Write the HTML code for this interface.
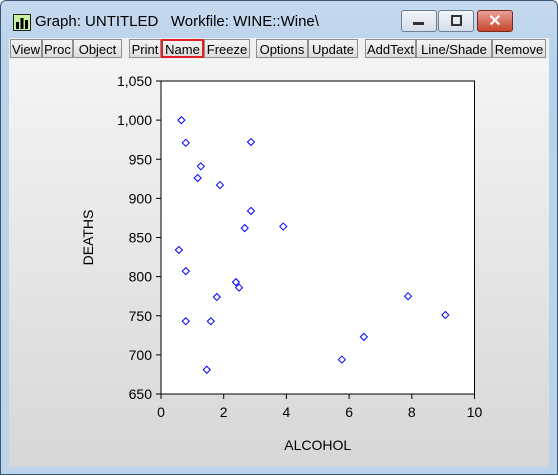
<!DOCTYPE html>
<html><head><meta charset="utf-8"><style>
body{margin:0;width:558px;height:475px;overflow:hidden;font-family:"Liberation Sans",sans-serif;}
#win{position:absolute;left:0;top:0;width:556px;height:473px;border:1px solid #3b5574;border-radius:6px 6px 0 0;background:linear-gradient(#c6d9ee,#b9d1ea 60px,#bcd3eb);}
#title{position:absolute;left:34px;top:12px;font-size:15px;color:#000;}
.tb{position:absolute;top:9px;height:20px;border:1px solid #6f7f93;border-radius:3px;background:linear-gradient(#f2f5f9,#d5dde8);}
#toolbar{position:absolute;left:8px;top:37px;width:540px;height:21px;background:#f0f0f0;}
.btn{position:absolute;top:1px;height:19px;border:1px solid #8e8f8f;background:linear-gradient(#f4f4f4,#dcdcdc);font-size:13px;line-height:19px;text-align:center;box-sizing:border-box;}
#content{position:absolute;left:8px;top:58px;width:540px;height:408px;background:linear-gradient(#f4f4f4,#d7d7d7);}
</style></head><body>
<div id="win">
<svg style="position:absolute;left:12px;top:13px" width="18" height="17"><rect x="0.5" y="0.5" width="17" height="16" fill="#c7f0a0" stroke="#222"/><rect x="3" y="8" width="3" height="7" fill="#000"/><rect x="7.5" y="4" width="3" height="11" fill="#000"/><rect x="12" y="6" width="3" height="9" fill="#000"/></svg>
<div id="title">Graph: UNTITLED&nbsp;&nbsp;&nbsp;Workfile: WINE::Wine\</div>
<div class="tb" style="left:400px;width:34px"><div style="position:absolute;left:11px;top:11px;width:11px;height:3px;background:#333"></div></div>
<div class="tb" style="left:437px;width:34px"><div style="position:absolute;left:12px;top:4px;width:7px;height:7px;border:2px solid #333"></div></div>
<div class="tb" style="left:476px;width:34px;background:linear-gradient(#e8a294,#c7442d);border-color:#7a2a20"><div style="position:absolute;width:100%;text-align:center;top:0;color:#fff;font-weight:bold;font-size:16px">✕</div></div>
<div id="toolbar">
<div class="btn" style="left:1px;width:32px">View</div>
<div class="btn" style="left:33px;width:31px">Proc</div>
<div class="btn" style="left:64px;width:49px">Object</div>
<div class="btn" style="left:120px;width:32px">Print</div>
<div class="btn" style="left:152px;width:43px;border:2px solid #e01f26;line-height:17px">Name</div>
<div class="btn" style="left:195px;width:46px">Freeze</div>
<div class="btn" style="left:247px;width:52px">Options</div>
<div class="btn" style="left:299px;width:50px">Update</div>
<div class="btn" style="left:356px;width:51px">AddText</div>
<div class="btn" style="left:407px;width:76px">Line/Shade</div>
<div class="btn" style="left:483px;width:54px">Remove</div>
</div>
<div id="content"></div>
<svg id="chart" style="position:absolute;left:0;top:0" width="558" height="475"></svg>
</div>
<script>
const alcohol=[0.65,0.79,2.87,1.27,1.17,1.88,2.87,2.67,3.9,0.57,0.79,2.39,2.49,1.78,0.79,1.59,1.46,5.77,6.47,7.88,9.07];
const deaths=[1000,971,972,941,926,917,884,862,864,834,807,793,786,774,743,743,681,694,723,775,751];
const xTicks=[0,2,4,6,8,10];
const yTicks=[650,700,750,800,850,900,950,1000,1050];
const svg=document.getElementById('chart');
const NS='http://www.w3.org/2000/svg';
const L=160,R=473.5,T=80,B=393;
const xs=v=>L+(v-0)/10*(R-L);
const ys=v=>B-(v-650)/400*(B-T);
function mk(t,a){const e=document.createElementNS(NS,t);for(const k in a)e.setAttribute(k,a[k]);svg.appendChild(e);return e;}
const fr=mk('rect',{x:L,y:T,width:R-L,height:B-T,fill:'#fff',stroke:'#000','stroke-width':1});


yTicks.forEach(v=>{const y=ys(v);
const t=mk('line',{x1:L-5,x2:L,y1:y,y2:y,stroke:'#000'});


const l=mk('text',{x:L-9,y:y+5,'text-anchor':'end','font-size':'14','font-family':'Liberation Sans, sans-serif'});
l.textContent=v.toLocaleString('en-US');

});
xTicks.forEach(v=>{const x=xs(v);
const t=mk('line',{x1:x,x2:x,y1:B,y2:B+5,stroke:'#000'});


const l=mk('text',{x:x,y:B+23,'text-anchor':'middle','font-size':'14','font-family':'Liberation Sans, sans-serif'});
l.textContent=v;

});
alcohol.forEach((a,i)=>{const x=xs(a),y=ys(deaths[i]);
const p=mk('polygon',{points:`${x},${y-3.5} ${x+3.5},${y} ${x},${y+3.5} ${x-3.5},${y}`,fill:'none',stroke:'#0000ff','stroke-width':1});

});
const xt=mk('text',{x:(L+R)/2,y:449,'text-anchor':'middle','font-size':'14','font-family':'Liberation Sans, sans-serif'});
xt.textContent='ALCOHOL';


const yt=mk('text',{x:0,y:0,'text-anchor':'middle','font-size':'14','font-family':'Liberation Sans, sans-serif',transform:`translate(92,${(T+B)/2}) rotate(-90)`});
yt.textContent='DEATHS';


</script>
</body></html>
